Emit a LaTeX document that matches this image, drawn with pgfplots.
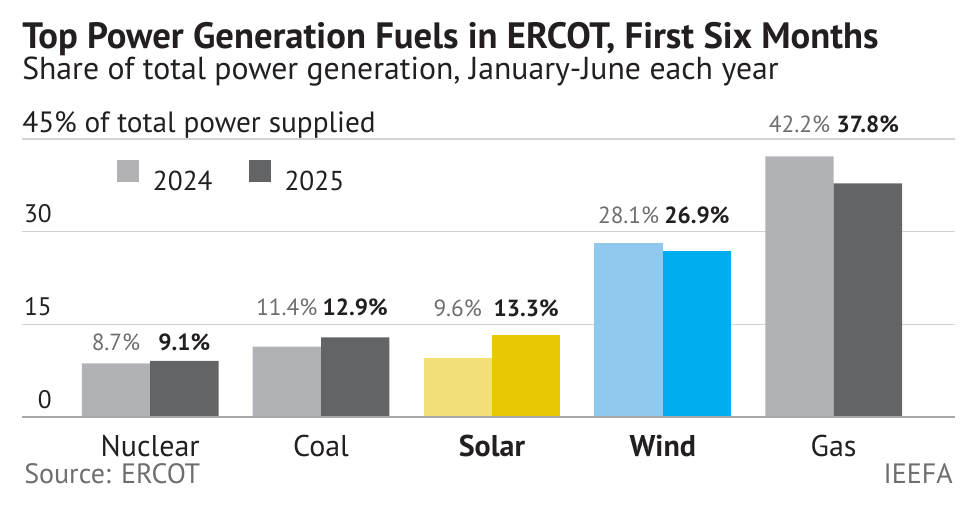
\documentclass[border=0pt]{standalone}
\usepackage{fontspec}
\setmainfont{PT Sans}
\usepackage{pgfplots}
\pgfplotsset{compat=1.18}

\definecolor{g24}{HTML}{B1B2B6}
\definecolor{g25}{HTML}{636466}
\definecolor{s24}{HTML}{F2DF7A}
\definecolor{s25}{HTML}{E8C800}
\definecolor{w24}{HTML}{90C8EE}
\definecolor{w25}{HTML}{00AEEF}
\definecolor{txt}{HTML}{231F20}
\definecolor{lbl}{HTML}{6D6E71}
\definecolor{gridc}{HTML}{D1D2D4}
\definecolor{basec}{HTML}{A7A9AC}

\newcommand\fs[1]{\fontsize{#1}{#1}\selectfont}
\tikzset{
  lab24/.style={anchor=base, inner sep=0pt, font=\fs{17.5pt}, text=lbl},
  lab25/.style={anchor=base, inner sep=0pt, font=\bfseries\fs{17.5pt}, text=txt},
}

\begin{document}
\begin{tikzpicture}
\useasboundingbox (0,0) rectangle (732.75pt,384pt);
\begin{axis}[
  at={(16.5pt,71.25pt)}, anchor=south west,
  scale only axis, width=699.75pt, height=208.5pt,
  xmin=-0.75, xmax=4.71, ymin=0, ymax=45,
  clip=false,
  axis line style={draw=none}, tick style={draw=none},
  ybar, bar width=0.4,
  ytick={0,15,30,45}, yticklabels={0,15,30,{}},
  ymajorgrids, grid style={draw=gridc, line width=1.2pt},
  xtick={0,1,2,3,4},
  xticklabels={Nuclear,Coal,\textbf{Solar},\textbf{Wind},Gas},
  xticklabel style={anchor=base, inner sep=0pt, yshift=-25.5pt, font=\fs{22.5pt}, text=txt},
  yticklabel style={anchor=base east, inner sep=0pt, xshift=22.5pt, yshift=6.75pt, font=\fs{19pt}, text=txt},
  legend style={draw=none, fill=none, inner sep=0pt, outer sep=0pt,
    at={(0.1018,0.806)}, anchor=south west, legend columns=-1,
    font=\fs{20.5pt}, text=txt,
    nodes={inner sep=0pt},
    /tikz/every odd column/.append style={column sep=10.5pt},
    /tikz/every even column/.append style={column sep=27pt}},
]
% 2024 and 2025, grey categories (Nuclear, Coal, Gas)
\addplot[fill=g24, draw=none, bar shift=-0.2,
  legend image code/.code={\fill[g24] (0pt,0pt) rectangle (16.5pt,16.5pt);}]
  coordinates {(0,8.7) (1,11.4) (4,42.2)};
\addlegendentry{2024}
\addplot[fill=g25, draw=none, bar shift=0.2,
  legend image code/.code={\fill[g25] (0pt,0pt) rectangle (16.5pt,16.5pt);}]
  coordinates {(0,9.1) (1,12.9) (4,37.8)};
\addlegendentry{2025}
% Solar
\addplot[fill=s24, draw=none, bar shift=-0.2, forget plot] coordinates {(2,9.6)};
\addplot[fill=s25, draw=none, bar shift=0.2, forget plot] coordinates {(2,13.3)};
% Wind
\addplot[fill=w24, draw=none, bar shift=-0.2, forget plot] coordinates {(3,28.1)};
\addplot[fill=w25, draw=none, bar shift=0.2, forget plot] coordinates {(3,26.9)};

\draw[basec, line width=1.5pt] (axis cs:-0.75,0) -- (axis cs:4.71,0);

% value labels
\node[lab24] at (axis cs:-0.2,10.8) {8.7\%};
\node[lab25] at (axis cs:0.2,10.8) {9.1\%};
\node[lab24] at (axis cs:0.8,16.5) {11.4\%};
\node[lab25] at (axis cs:1.2,16.5) {12.9\%};
\node[lab24] at (axis cs:1.8,16.3) {9.6\%};
\node[lab25] at (axis cs:2.2,16.3) {13.3\%};
\node[lab24] at (axis cs:2.8,31.4) {28.1\%};
\node[lab25] at (axis cs:3.2,31.4) {26.9\%};
\node[lab24] at (axis cs:3.8,46.1) {42.2\%};
\node[lab25] at (axis cs:4.2,46.1) {37.8\%};
\end{axis}

\begin{scope}[x=0.75pt, y=-0.75pt, yshift=384pt]
\node[anchor=base west, inner sep=0pt, font=\bfseries\fs{27.5pt}, text=txt] at (22,48)
  {Top Power Generation Fuels in ERCOT, First Six Months};
\node[anchor=base west, inner sep=0pt, font=\fs{23.8pt}, text=txt] at (22,79)
  {Share of total power generation, January-June each year};
\node[anchor=base west, inner sep=0pt, font=\fs{22pt}, text=txt] at (22,132)
  {45\% of total power supplied};
\node[anchor=base west, inner sep=0pt, font=\fs{21pt}, text=lbl] at (24,483) {Source: ERCOT};
\node[anchor=base east, inner sep=0pt, font=\fs{21pt}, text=lbl] at (953,483) {IEEFA};
\end{scope}
\end{tikzpicture}
\end{document}
